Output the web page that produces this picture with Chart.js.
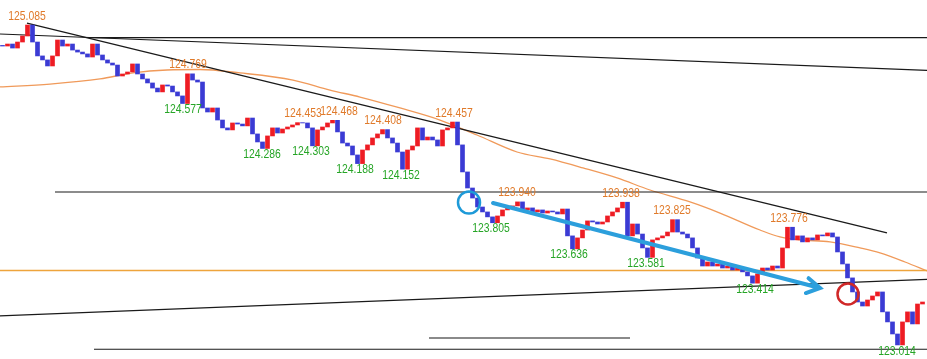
<!DOCTYPE html>
<html>
<head>
<meta charset="utf-8">
<script src="https://cdn.jsdelivr.net/npm/chart.js@4.4.0/dist/chart.umd.min.js"></script>
<style>
  html, body { margin: 0; padding: 0; background: #fff; }
  canvas { display: block; }
</style>
</head>
<body>
<canvas id="chart" width="927" height="359"></canvas>
<script>
// closing price of every bar
const closes = [
  124.949, 124.962, 124.936, 124.975, 125.014, 125.085, 124.975, 124.885, 124.859, 124.820,
  124.885, 124.988, 124.949, 124.962, 124.923, 124.910, 124.898, 124.878, 124.962, 124.891,
  124.859, 124.839, 124.826, 124.755, 124.768, 124.781, 124.833, 124.768, 124.736, 124.710,
  124.677, 124.652, 124.697, 124.690, 124.652, 124.626, 124.577, 124.769, 124.729, 124.716,
  124.548, 124.522, 124.548, 124.470, 124.419, 124.406, 124.451, 124.444, 124.432, 124.483,
  124.380, 124.328, 124.286, 124.367, 124.419, 124.386, 124.412, 124.425, 124.438, 124.453,
  124.451, 124.419, 124.303, 124.406, 124.425, 124.451, 124.468, 124.393, 124.321, 124.302,
  124.244, 124.188, 124.276, 124.309, 124.354, 124.380, 124.408, 124.354, 124.321, 124.263,
  124.152, 124.276, 124.302, 124.419, 124.341, 124.360, 124.341, 124.302, 124.406, 124.419,
  124.457, 124.309, 124.134, 124.030, 123.965, 123.907, 123.875, 123.843, 123.805, 123.849,
  123.888, 123.901, 123.914, 123.940, 123.888, 123.901, 123.875, 123.888, 123.868, 123.881,
  123.875, 123.862, 123.894, 123.720, 123.636, 123.707, 123.758, 123.817, 123.810, 123.797,
  123.810, 123.849, 123.875, 123.901, 123.938, 123.720, 123.797, 123.732, 123.642, 123.581,
  123.694, 123.707, 123.720, 123.745, 123.825, 123.745, 123.732, 123.707, 123.642, 123.577,
  123.525, 123.551, 123.525, 123.538, 123.512, 123.525, 123.499, 123.512, 123.487, 123.461,
  123.414, 123.474, 123.512, 123.499, 123.525, 123.512, 123.642, 123.776, 123.694, 123.720,
  123.681, 123.707, 123.694, 123.726, 123.720, 123.739, 123.713, 123.616, 123.538, 123.448,
  123.357, 123.292, 123.266, 123.305, 123.331, 123.357, 123.228, 123.163, 123.085, 123.014,
  123.163, 123.228, 123.150, 123.279, 123.292
];

// long moving average (orange curve)
const maIdx = [-0.5, 9.5, 19.5, 26.1, 32.9, 39.5, 47.5, 58.1, 65.5, 71.5, 79.5, 87.5, 94.9, 102.9,
  109.5, 116.1, 122.9, 129.5, 137.5, 143.5, 151.5, 155.5, 159.5, 165.5, 171.5, 175.5, 180.5, 184.9];
const maVal = [124.684, 124.703, 124.736, 124.775, 124.794, 124.797, 124.775, 124.729, 124.664, 124.619,
  124.548, 124.470, 124.373, 124.263, 124.218, 124.160, 124.095, 124.017, 123.940, 123.868,
  123.758, 123.713, 123.694, 123.681, 123.642, 123.610, 123.551, 123.493];

// swing highs / lows with their labels
const highIdx = [4.9, 37.1, 60.1, 67.3, 76.1, 90.3, 102.9, 123.7, 133.9, 157.3];
const highVal = [125.085, 124.769, 124.453, 124.468, 124.408, 124.457, 123.940, 123.938, 123.825, 123.776];
const lowIdx = [36.1, 51.9, 61.7, 70.5, 79.7, 97.7, 113.3, 128.7, 150.5, 178.9];
const lowVal = [124.577, 124.286, 124.303, 124.188, 124.152, 123.805, 123.636, 123.581, 123.414, 123.014];

// drawn lines: [bar index, price] end points
const downTrend = [[4.9, 125.098], [176.9, 123.739]];
const upperSlope = [[-0.5, 125.027], [184.9, 124.791]];
const upperFlat = [[17.5, 125.004], [184.9, 125.004]];
const midFlat = [[10.5, 124.004], [184.9, 124.004]];
const lowerSlope = [[-0.5, 123.202], [184.9, 123.438]];
const bottomFlat = [[18.3, 122.986], [184.9, 122.986]];
const grayFlat = [[85.3, 123.059], [125.5, 123.059]];
const orangeLevel = [[-0.5, 123.496], [184.9, 123.496]];
const arrowPts = [[98.1, 123.933], [163.5, 123.383]];
const blueMark = [[93.3, 123.936]];
const redMark = [[169.1, 123.344]];

const toXY = pts => pts.map(p => ({ x: p[0], y: p[1] }));

const bars = closes.map((c, i) => {
  const o = i > 0 ? closes[i - 1] : c + 0.004;
  return { x: i, y: [o, c] };
});
const barColors = closes.map((c, i) => {
  const o = i > 0 ? closes[i - 1] : c + 0.004;
  return c > o ? '#ee1c24' : '#3b3bd4';
});

const lineDs = (pts, color, width) => ({
  type: 'line',
  data: toXY(pts),
  borderColor: color,
  borderWidth: width,
  pointRadius: 0,
  fill: false,
  order: 3
});

const overlay = {
  id: 'overlay',
  afterDatasetsDraw(chart) {
    const { ctx, scales: { x, y } } = chart;
    ctx.save();
    ctx.font = '13px "Liberation Sans", Arial, sans-serif';
    ctx.textAlign = 'center';
    ctx.textBaseline = 'middle';
    const label = (idx, val, dy, color) => {
      ctx.save();
      ctx.translate(x.getPixelForValue(idx), y.getPixelForValue(val) + dy);
      ctx.scale(0.8, 1);
      ctx.fillStyle = color;
      ctx.fillText(val.toFixed(3), 0, 0);
      ctx.restore();
    };
    highIdx.forEach((idx, i) => label(idx, highVal[i], -9, '#e07a2a'));
    lowIdx.forEach((idx, i) => label(idx, lowVal[i], 6, '#26a526'));

    // blue arrow
    const x0 = x.getPixelForValue(arrowPts[0][0]), y0 = y.getPixelForValue(arrowPts[0][1]);
    const x1 = x.getPixelForValue(arrowPts[1][0]), y1 = y.getPixelForValue(arrowPts[1][1]);
    const ang = Math.atan2(y1 - y0, x1 - x0);
    ctx.strokeStyle = '#2c9fdc';
    ctx.lineWidth = 4;
    ctx.lineCap = 'round';
    ctx.beginPath();
    ctx.moveTo(x0, y0);
    ctx.lineTo(x1, y1);
    ctx.moveTo(x1 - 15 * Math.cos(ang - 0.6), y1 - 15 * Math.sin(ang - 0.6));
    ctx.lineTo(x1, y1);
    ctx.lineTo(x1 - 15 * Math.cos(ang + 0.45), y1 - 15 * Math.sin(ang + 0.45));
    ctx.stroke();
    ctx.restore();
  }
};

new Chart(document.getElementById('chart'), {
  type: 'bar',
  data: {
    datasets: [
      {
        type: 'bar',
        data: bars,
        backgroundColor: barColors,
        barThickness: 4,
        grouped: false,
        order: 1
      },
      {
        type: 'line',
        data: maIdx.map((v, i) => ({ x: v, y: maVal[i] })),
        borderColor: '#f09a5a',
        borderWidth: 1.3,
        pointRadius: 0,
        cubicInterpolationMode: 'monotone',
        order: 4
      },
      lineDs(downTrend, '#1a1a1a', 1.3),
      lineDs(upperSlope, '#1a1a1a', 1.2),
      lineDs(upperFlat, '#1a1a1a', 1.2),
      lineDs(midFlat, '#1a1a1a', 1.2),
      lineDs(lowerSlope, '#1a1a1a', 1.2),
      lineDs(bottomFlat, '#1a1a1a', 1.2),
      lineDs(grayFlat, '#8a8a8a', 2),
      lineDs(orangeLevel, '#eea43c', 1.4),
      {
        type: 'line',
        data: toXY(blueMark),
        showLine: false,
        pointRadius: 11,
        pointBorderWidth: 2.5,
        pointBorderColor: '#1e9ad8',
        pointBackgroundColor: 'rgba(0,0,0,0)',
        order: 0
      },
      {
        type: 'line',
        data: toXY(redMark),
        showLine: false,
        pointRadius: 10.5,
        pointBorderWidth: 2.5,
        pointBorderColor: '#d02828',
        pointBackgroundColor: 'rgba(0,0,0,0)',
        order: 0
      }
    ]
  },
  options: {
    responsive: false,
    animation: false,
    layout: { padding: 0, autoPadding: false },
    plugins: { legend: { display: false }, tooltip: { enabled: false } },
    scales: {
      x: { type: 'linear', min: -0.5, max: 184.9, offset: false, display: false },
      y: { min: 122.923, max: 125.247, display: false }
    }
  },
  plugins: [overlay]
});
</script>
</body>
</html>
